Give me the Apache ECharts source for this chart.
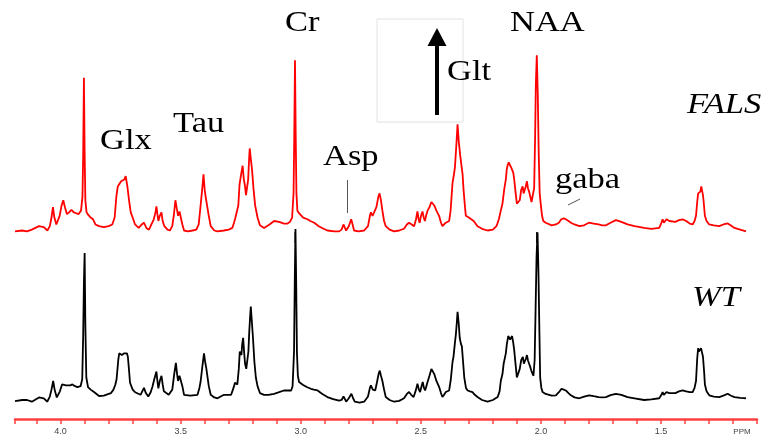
<!DOCTYPE html>
<html>
<head>
<meta charset="utf-8">
<title>NMR spectra</title>
<script src="https://cdn.jsdelivr.net/npm/echarts/dist/echarts.min.js"></script>
<style>
  html, body { margin: 0; padding: 0; background: #fff; }
  #contain { width: 771px; height: 441px; }
</style>
</head>
<body>
<div id="contain"></div>
<script>
// FALS spectrum (red, top) - chemical shift in ppm and intensity
var falsPpm = [4.19, 4.16, 4.14, 4.12, 4.09, 4.07, 4.055, 4.045, 4.038, 4.032, 4.026, 4.018, 4.012, 4.004, 3.996, 3.989, 3.982, 3.974, 3.965, 3.955, 3.945, 3.935, 3.925, 3.915, 3.909, 3.906, 3.903, 3.900, 3.897, 3.892, 3.885, 3.875, 3.865, 3.855, 3.84, 3.82, 3.80, 3.785, 3.775, 3.768, 3.762, 3.755, 3.748, 3.742, 3.735, 3.729, 3.722, 3.715, 3.708, 3.70, 3.69, 3.675, 3.662, 3.653, 3.643, 3.632, 3.622, 3.612, 3.605, 3.601, 3.597, 3.593, 3.587, 3.580, 3.575, 3.568, 3.555, 3.545, 3.535, 3.528, 3.522, 3.516, 3.511, 3.505, 3.499, 3.493, 3.486, 3.47, 3.45, 3.435, 3.425, 3.417, 3.41, 3.405, 3.40, 3.396, 3.39, 3.383, 3.375, 3.36, 3.347, 3.32, 3.30, 3.285, 3.278, 3.272, 3.266, 3.26, 3.255, 3.25, 3.246, 3.242, 3.237, 3.233, 3.228, 3.224, 3.219, 3.215, 3.2125, 3.208, 3.203, 3.197, 3.19, 3.18, 3.17, 3.153, 3.13, 3.111, 3.09, 3.07, 3.055, 3.045, 3.036, 3.030, 3.027, 3.024, 3.021, 3.018, 3.014, 3.007, 3.0, 2.99, 2.972, 2.96, 2.944, 2.925, 2.905, 2.889, 2.86, 2.84, 2.83, 2.822, 2.816, 2.811, 2.8, 2.79, 2.784, 2.778, 2.76, 2.736, 2.72, 2.712, 2.708, 2.701, 2.694, 2.685, 2.677, 2.672, 2.666, 2.66, 2.653, 2.646, 2.63, 2.611, 2.59, 2.57, 2.558, 2.549, 2.538, 2.528, 2.52, 2.514, 2.509, 2.505, 2.499, 2.493, 2.488, 2.483, 2.478, 2.472, 2.464, 2.456, 2.45, 2.444, 2.435, 2.424, 2.416, 2.41, 2.403, 2.396, 2.389, 2.382, 2.376, 2.368, 2.362, 2.358, 2.352, 2.347, 2.342, 2.336, 2.331, 2.326, 2.322, 2.316, 2.3125, 2.30, 2.29, 2.28, 2.264, 2.245, 2.222, 2.2, 2.185, 2.175, 2.167, 2.16, 2.152, 2.146, 2.142, 2.139, 2.134, 2.128, 2.124, 2.12, 2.115, 2.111, 2.105, 2.1, 2.094, 2.088, 2.082, 2.076, 2.072, 2.068, 2.063, 2.058, 2.054, 2.049, 2.044, 2.039, 2.033, 2.028, 2.024, 2.021, 2.017, 2.013, 2.009, 2.005, 2.0, 1.995, 1.99, 1.98, 1.972, 1.955, 1.9375, 1.925, 1.915, 1.905, 1.896, 1.885, 1.875, 1.86, 1.84, 1.82, 1.80, 1.78, 1.76, 1.745, 1.729, 1.71, 1.6875, 1.665, 1.639, 1.61, 1.57, 1.54, 1.507, 1.498, 1.493, 1.488, 1.483, 1.477, 1.472, 1.465, 1.458, 1.44, 1.425, 1.41, 1.395, 1.38, 1.368, 1.36, 1.354, 1.349, 1.345, 1.34, 1.336, 1.332, 1.329, 1.325, 1.322, 1.317, 1.31, 1.299, 1.28, 1.257, 1.24, 1.222, 1.21, 1.194, 1.17, 1.146];
var falsVal = [0, 0.5, 0, 1, 3, 2.5, 0.5, 3, 8, 14, 8, 4, 5, 9, 15, 18, 14, 10, 11, 12.5, 11, 10.5, 10, 12, 20, 45, 89, 45, 18, 11, 9.5, 8, 7, 4, 3, 2.5, 3, 4, 8, 20, 26, 27, 29, 28, 30, 32, 26, 18, 11, 8, 4, 2, 4, 5, 2, 1, 4, 7, 11, 14.5, 10, 6, 9, 11, 6, 3, 1, 0.5, 3, 10, 18, 13, 9, 11.5, 11, 4, 0.5, 0, 0.5, 1, 4, 15, 25, 33, 24, 20, 19, 9, 3, 0.5, 0, 0.5, 1, 2, 5, 8, 8, 15, 27, 28, 35, 38, 30, 27, 21, 21, 30, 42, 48, 42, 36, 25, 15, 8, 3.5, 2, 4, 6, 5.5, 4.5, 4.5, 5.5, 8, 22, 55, 99, 55, 22, 12, 10.5, 10, 8, 7, 6, 5, 3, 1.5, 0.5, 0, 0, 1, 4, 2, 0.5, 3, 7, 4, 0.5, 0, 0.5, 3, 9, 11, 9, 9, 14, 20, 22, 18, 12, 6, 3, 1, 0, 0.5, 1.5, 4, 5, 4, 3, 7, 11.5, 7, 5, 9, 11.5, 8, 6, 9, 12, 14, 17, 16.5, 15, 12, 9, 5, 3, 4, 5, 5.5, 6, 12, 28, 33, 37, 50, 62, 52, 44, 44, 33, 24, 14, 9, 8, 7, 6, 3, 1.5, 0.5, 1, 3, 7, 12, 16, 25, 30, 36, 38, 40, 41, 37, 38, 34, 30, 22, 16, 15, 18, 24, 26, 22, 22, 26, 29, 25, 23, 20, 17, 16, 25, 55, 85, 102, 80, 45, 22, 15, 9, 6, 5, 4, 3.5, 4, 5, 7, 7.5, 7, 6, 5, 4, 3, 3.5, 5, 4.5, 4, 3.5, 3.5, 5, 6.5, 5.5, 4, 3, 2, 1.5, 2, 5, 7, 5, 5, 7, 8, 6, 5, 5.5, 6.5, 7, 6, 4.5, 4, 6, 9, 17, 22, 22.5, 23, 26, 26, 21, 17, 9, 6, 4, 3.5, 3, 4, 4.6, 3.5, 2, 1, 0];

// WT spectrum (black, bottom)
var wtPpm = [4.19, 4.16, 4.14, 4.12, 4.09, 4.07, 4.056, 4.045, 4.038, 4.031, 4.025, 4.016, 4.011, 4.003, 3.994, 3.986, 3.978, 3.97, 3.96, 3.951, 3.94, 3.93, 3.917, 3.91, 3.906, 3.903, 3.900, 3.897, 3.893, 3.886, 3.875, 3.861, 3.84, 3.82, 3.80, 3.79, 3.78, 3.772, 3.767, 3.76, 3.756, 3.75, 3.745, 3.74, 3.735, 3.729, 3.724, 3.72, 3.715, 3.711, 3.70, 3.69, 3.667, 3.66, 3.653, 3.645, 3.635, 3.625, 3.618, 3.61, 3.601, 3.597, 3.593, 3.587, 3.58, 3.575, 3.57, 3.55, 3.535, 3.527, 3.52, 3.515, 3.511, 3.505, 3.5, 3.493, 3.486, 3.46, 3.43, 3.422, 3.417, 3.41, 3.403, 3.398, 3.393, 3.39, 3.383, 3.375, 3.36, 3.347, 3.32, 3.30, 3.29, 3.28, 3.274, 3.268, 3.264, 3.258, 3.254, 3.25, 3.247, 3.244, 3.24, 3.236, 3.232, 3.227, 3.222, 3.218, 3.215, 3.211, 3.208, 3.204, 3.199, 3.193, 3.187, 3.18, 3.17, 3.153, 3.135, 3.111, 3.09, 3.07, 3.055, 3.04, 3.034, 3.028, 3.025, 3.022, 3.019, 3.016, 3.012, 3.007, 3.0, 2.99, 2.975, 2.958, 2.945, 2.93, 2.91, 2.889, 2.865, 2.84, 2.83, 2.822, 2.816, 2.811, 2.8, 2.789, 2.782, 2.775, 2.755, 2.736, 2.72, 2.712, 2.708, 2.70, 2.69, 2.683, 2.676, 2.671, 2.666, 2.66, 2.653, 2.646, 2.63, 2.611, 2.59, 2.57, 2.558, 2.549, 2.54, 2.53, 2.52, 2.514, 2.508, 2.503, 2.497, 2.492, 2.487, 2.482, 2.477, 2.472, 2.464, 2.456, 2.45, 2.444, 2.435, 2.424, 2.416, 2.41, 2.403, 2.396, 2.389, 2.382, 2.375, 2.368, 2.364, 2.358, 2.354, 2.35, 2.347, 2.342, 2.338, 2.333, 2.329, 2.324, 2.319, 2.312, 2.305, 2.295, 2.285, 2.275, 2.264, 2.245, 2.222, 2.2, 2.18, 2.172, 2.167, 2.16, 2.155, 2.146, 2.142, 2.136, 2.132, 2.128, 2.124, 2.12, 2.115, 2.111, 2.105, 2.1, 2.094, 2.088, 2.082, 2.075, 2.071, 2.067, 2.062, 2.058, 2.054, 2.049, 2.044, 2.04, 2.031, 2.026, 2.022, 2.018, 2.014, 2.01, 2.006, 2.003, 1.998, 1.993, 1.98, 1.972, 1.955, 1.9375, 1.925, 1.914, 1.905, 1.896, 1.885, 1.875, 1.86, 1.84, 1.82, 1.799, 1.78, 1.76, 1.745, 1.729, 1.71, 1.6875, 1.665, 1.639, 1.61, 1.57, 1.54, 1.507, 1.498, 1.493, 1.488, 1.483, 1.477, 1.472, 1.465, 1.458, 1.44, 1.425, 1.41, 1.395, 1.38, 1.368, 1.36, 1.354, 1.349, 1.345, 1.342, 1.34, 1.337, 1.333, 1.329, 1.325, 1.32, 1.317, 1.31, 1.299, 1.28, 1.257, 1.24, 1.222, 1.21, 1.194, 1.17, 1.146];
var wtVal = [1.4, 2, 2, 1, 3.5, 3, 1, 4, 8, 13, 8, 3.5, 3, 7, 11, 12, 10.5, 9.5, 10.5, 11, 10, 9.5, 10, 14, 40, 70, 87, 45, 15, 9.5, 8, 6.6, 4.3, 4.5, 5.5, 6, 8, 11, 14, 25, 29, 28, 28, 28, 29, 30, 29, 27, 19, 12, 8, 6.5, 5, 7, 9, 6, 4, 6.5, 9.5, 14, 18.5, 13, 8.7, 13, 16, 11, 7, 5, 8, 17, 23.5, 17, 13, 16, 17, 10, 5, 4.5, 5, 9, 12.7, 21, 29, 24, 20, 19, 10, 5, 3.5, 3, 5, 5, 5, 9, 12, 11, 11, 20, 30, 29, 28, 34, 38, 30, 23, 20, 20, 30, 40, 50, 56, 48, 38, 24, 15, 10, 6, 5, 5, 5.6, 6.5, 7.5, 7.5, 7.5, 10, 30, 70, 101, 70, 30, 16, 12.4, 11.5, 10.7, 9.5, 8.5, 8, 7.5, 5.5, 3.7, 2.5, 1.7, 2, 4, 2.5, 1, 3, 5.6, 3, 1, 0.5, 1, 4, 9, 10.5, 8, 7.5, 12, 17, 19, 16, 13, 8, 3.7, 2, 1, 1.5, 3, 5.5, 6.6, 5, 3.7, 8, 11.4, 8, 6.6, 10, 12.4, 9, 7.5, 10, 12.4, 16, 20, 18.5, 17, 13, 9.6, 6, 3.7, 5, 6.6, 7, 7.5, 14, 24, 27, 35, 40, 47, 53, 46, 38, 34.5, 33, 24, 15, 9, 7.5, 7, 6.6, 5, 3.7, 2, 1, 2, 3.7, 7, 13, 17, 23, 29, 34, 39, 38, 37, 36, 39, 35, 30.7, 22, 15, 15, 20, 25, 27, 23, 23, 26, 28, 25, 23, 21, 19, 16, 25, 55, 85, 99, 75, 40, 15, 9, 6.6, 5.5, 4.7, 4.5, 4.7, 6.5, 8.5, 8, 7.5, 6, 4.7, 3.5, 3, 4, 4.7, 4.2, 3.7, 3.5, 3.7, 4.8, 5.6, 5, 3.7, 3, 2, 2.3, 3, 5, 6.6, 5, 4.7, 6.5, 7.5, 6, 5.6, 6, 7, 7.5, 7, 6.6, 6.6, 9, 13, 26, 32, 30, 30, 31, 32, 31, 27, 18, 11, 7, 4.7, 4, 3.7, 4.5, 5.6, 4.6, 3.7, 3.2, 3];

// x axis: ppm range, tick every 0.1, labels every 0.5
var ppmMin = 1.1;
var ppmMax = 4.19;
var tickStep = 0.1;

function pairs(xs, ys) {
    return xs.map(function (x, i) { return [x, ys[i]]; });
}

var serif = '"Liberation Serif", "Times New Roman", serif';

// text labels on the picture
function label(txt, left, baseline, italic) {
    return {
        type: 'text',
        x: left,
        y: baseline - 10,
        scaleX: 1.15,
        style: {
            text: txt,
            x: 0,
            y: 0,
            fill: '#000',
            font: (italic ? 'italic ' : '') + '30px ' + serif,
            textAlign: 'left',
            textVerticalAlign: 'middle'
        },
        z: 10
    };
}

var myChart = echarts.init(document.getElementById('contain'));

var option = {
    animation: false,
    backgroundColor: '#fff',
    grid: [
        { left: 15, right: 14, top: 50, height: 190 },
        { left: 15, right: 14, top: 222, height: 197 }
    ],
    xAxis: [
        {
            gridIndex: 0, type: 'value', min: ppmMin, max: ppmMax, inverse: true,
            show: false
        },
        {
            gridIndex: 1, type: 'value', min: ppmMin, max: ppmMax, inverse: true,
            interval: tickStep,
            axisLine: { onZero: false, lineStyle: { color: '#ff4040', width: 2.5 } },
            axisTick: { show: true, length: 5, lineStyle: { color: '#ff4040', width: 1.5 } },
            splitLine: { show: false },
            axisLabel: {
                margin: 8,
                fontSize: 9,
                color: '#444',
                fontFamily: 'Liberation Sans',
                formatter: function (v) {
                    var k = Math.round(v * 10);
                    if (k % 5 === 0 && k >= 15 && k <= 40) return (k / 10).toFixed(1);
                    return '';
                }
            }
        }
    ],
    yAxis: [
        { gridIndex: 0, type: 'value', min: -5, max: 105, show: false, splitLine: { show: false } },
        { gridIndex: 1, type: 'value', min: -9, max: 105, show: false, splitLine: { show: false } }
    ],
    series: [
        {
            name: 'FALS',
            type: 'line',
            xAxisIndex: 0,
            yAxisIndex: 0,
            showSymbol: false,
            clip: false,
            lineStyle: { color: '#ff0000', width: 1.8 },
            data: pairs(falsPpm, falsVal)
        },
        {
            name: 'WT',
            type: 'line',
            xAxisIndex: 1,
            yAxisIndex: 1,
            showSymbol: false,
            clip: false,
            lineStyle: { color: '#000', width: 1.8 },
            data: pairs(wtPpm, wtVal)
        }
    ],
    graphic: [
        // frame around the Glt arrow
        { type: 'rect', shape: { x: 377, y: 19, width: 86, height: 103 }, style: { fill: 'none', stroke: '#e2e2e2', lineWidth: 1 } },
        { type: 'line', shape: { x1: 437, y1: 42, x2: 437, y2: 115 }, style: { stroke: '#000', lineWidth: 4 }, z: 10 },
        { type: 'polygon', shape: { points: [[437, 28], [427.5, 46], [446.5, 46]] }, style: { fill: '#000' }, z: 10 },
        label('Cr', 285, 33),
        label('NAA', 510, 33),
        label('Glt', 447, 82),
        label('Glx', 100, 151),
        label('Tau', 173, 134),
        label('Asp', 323, 167),
        label('gaba', 555, 190),
        label('FALS', 687, 115, true),
        label('WT', 692, 308, true),
        // pointer lines
        { type: 'line', shape: { x1: 347.5, y1: 180, x2: 347.5, y2: 213 }, style: { stroke: '#555', lineWidth: 1 } },
        { type: 'line', shape: { x1: 568, y1: 205, x2: 580, y2: 199 }, style: { stroke: '#555', lineWidth: 1 } },
        { type: 'line', shape: { x1: 295, y1: 232, x2: 295, y2: 243 }, style: { stroke: '#222', lineWidth: 1 } },
        { type: 'line', shape: { x1: 536.5, y1: 232, x2: 536.5, y2: 243 }, style: { stroke: '#222', lineWidth: 1 } },
        {
            type: 'text', x: 742, y: 432,
            style: { text: 'PPM', fill: '#444', font: '8px "Liberation Sans"', textAlign: 'center', textVerticalAlign: 'middle' }
        }
    ]
};

myChart.setOption(option);
</script>
</body>
</html>
